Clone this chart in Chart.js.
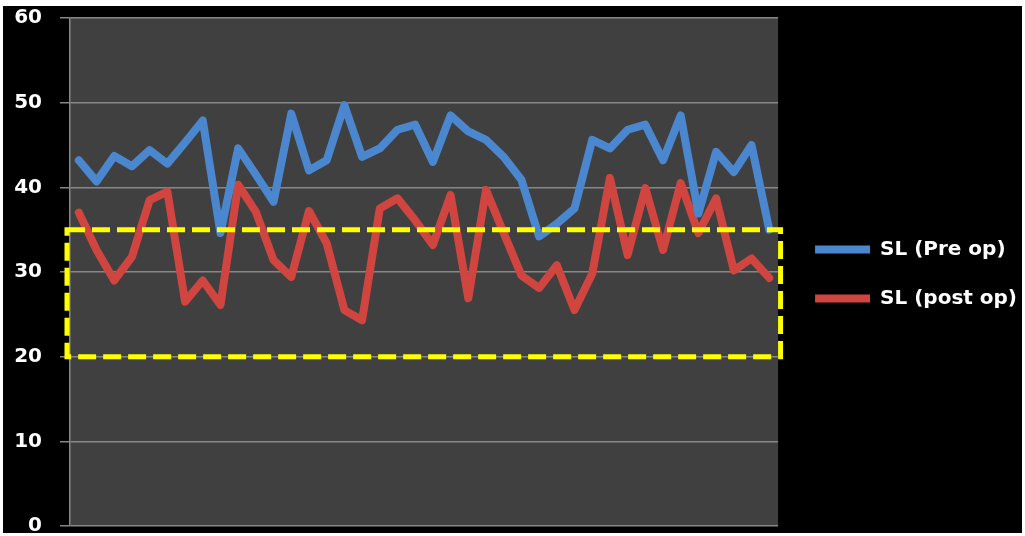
<!DOCTYPE html>
<html>
<head>
<meta charset="utf-8">
<script src="https://cdn.jsdelivr.net/npm/chart.js@4/dist/chart.umd.min.js"></script>
<style>
  html, body { margin: 0; padding: 0; background: #ffffff; }
  #wrap { position: absolute; left: 3px; top: 6px; width: 1019px; height: 527px; background: #000000; }
  canvas { display: block; }
</style>
</head>
<body>
<div id="wrap"><canvas id="c" width="1019" height="527"></canvas></div>
<script>
const categories = Array.from({length: 40}, (_, i) => String(i + 1));
const preOp = [43.2, 40.7, 43.7, 42.5, 44.4, 42.8, 45.3, 47.9, 34.6, 44.6,
               41.5, 38.3, 48.7, 42.0, 43.2, 49.7, 43.6, 44.6, 46.8, 47.4,
               43.0, 48.5, 46.6, 45.6, 43.6, 40.9, 34.2, 35.7, 37.5, 45.6,
               44.6, 46.8, 47.4, 43.2, 48.5, 36.9, 44.2, 41.8, 45.0, 35.0];
const postOp = [37.0, 32.6, 29.0, 31.8, 38.5, 39.5, 26.5, 29.0, 26.1, 40.3,
                37.1, 31.4, 29.4, 37.2, 33.4, 25.5, 24.3, 37.5, 38.7, 36.1,
                33.2, 39.1, 26.9, 39.7, 34.6, 29.6, 28.1, 30.8, 25.5, 29.8,
                41.1, 32.0, 39.9, 32.6, 40.5, 34.6, 38.7, 30.2, 31.6, 29.3];
const yTicks = [0, 10, 20, 30, 40, 50, 60];
const highlightBand = [20, 35];
const seriesNames = ['SL (Pre op)', 'SL (post op)'];

const plotBg = {
  id: 'plotBg',
  beforeDraw(chart) {
    const {ctx, chartArea: a} = chart;
    ctx.save();
    ctx.fillStyle = '#404040';
    ctx.fillRect(a.left, a.top, a.right - a.left, a.bottom - a.top);
    ctx.restore();
  }
};

const legendNudge = {
  id: 'legendNudge',
  afterLayout(chart) {
    if (chart.legend) {
      chart.legend.left += 8;
      chart.legend.top += 2;
      chart.legend.bottom += 2;
    }
  }
};

const bandBox = {
  id: 'bandBox',
  afterDatasetsDraw(chart) {
    const {ctx, chartArea: a, scales} = chart;
    const yTop = scales.y.getPixelForValue(highlightBand[1]);
    const yBot = scales.y.getPixelForValue(highlightBand[0]);
    const x0 = a.left - 3, x1 = a.right + 2.5;
    ctx.save();
    ctx.strokeStyle = '#ffff00';
    ctx.lineWidth = 5;
    ctx.setLineDash([18, 7]);
    ctx.beginPath();
    ctx.moveTo(x0, yTop);
    ctx.lineTo(x1, yTop);
    ctx.lineTo(x1, yBot);
    ctx.lineTo(x0, yBot);
    ctx.closePath();
    ctx.stroke();
    ctx.restore();
  }
};

new Chart(document.getElementById('c'), {
  type: 'line',
  data: {
    labels: categories,
    datasets: [
      { label: seriesNames[0], data: preOp, borderColor: '#4a87cf', backgroundColor: '#4a87cf',
        borderWidth: 8, pointRadius: 0, tension: 0, borderCapStyle: 'round', borderJoinStyle: 'round' },
      { label: seriesNames[1], data: postOp, borderColor: '#d0453f', backgroundColor: '#d0453f',
        borderWidth: 8, pointRadius: 0, tension: 0, borderCapStyle: 'round', borderJoinStyle: 'round' }
    ]
  },
  options: {
    responsive: false,
    animation: false,
    events: [],
    layout: { padding: { top: 12, bottom: 7, left: 0, right: 3 } },
    scales: {
      x: { type: 'category', offset: true, display: false },
      y: {
        min: 0, max: 60,
        afterBuildTicks(scale) { scale.ticks = yTicks.map(v => ({value: v})); },
        afterFit(scale) { scale.width = 67; scale.paddingTop = 0; scale.paddingBottom = 0; },
        grid: { color: '#878787', lineWidth: 1.5, tickLength: 10, drawTicks: true },
        border: { display: true, color: '#878787', width: 1.5 },
        ticks: { color: '#ffffff', padding: 18, font: { family: 'DejaVu Sans', size: 20, weight: 'bold' } }
      }
    },
    plugins: {
      tooltip: { enabled: false },
      legend: {
        position: 'right',
        maxWidth: 245,
        labels: {
          color: '#ffffff',
          usePointStyle: true,
          pointStyle: 'line',
          pointStyleWidth: 55,
          padding: 29,
          font: { family: 'DejaVu Sans', size: 20, weight: 'bold' }
        }
      }
    }
  },
  plugins: [plotBg, bandBox, legendNudge]
});
</script>
</body>
</html>
